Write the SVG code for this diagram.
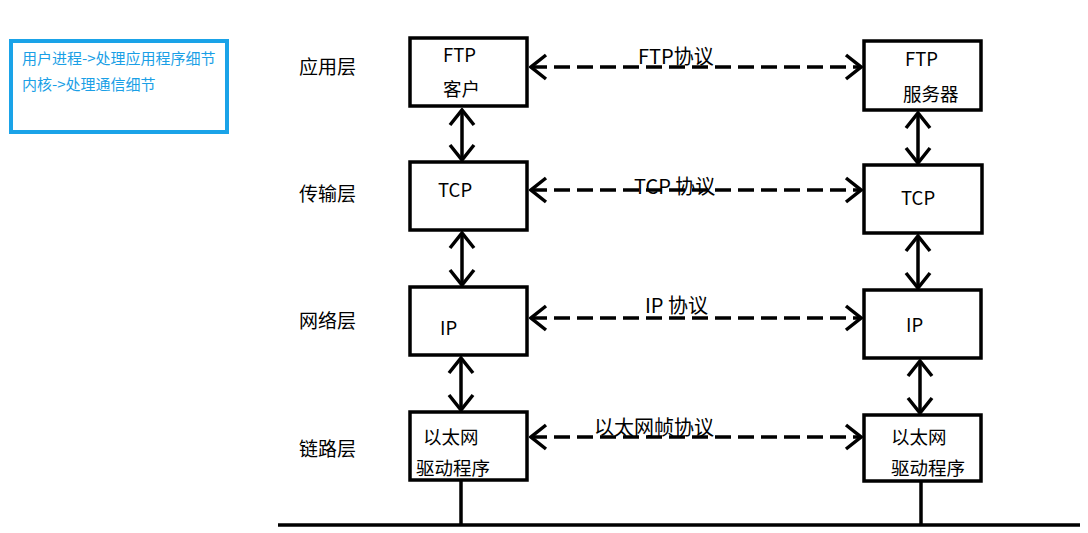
<svg xmlns="http://www.w3.org/2000/svg" width="1088" height="533" viewBox="0 0 1088 533">
<style>
text{font-family:"Noto Sans CJK SC","Noto Sans",sans-serif;fill:#000}
.box{fill:#fff;stroke:#000;stroke-width:3.5}
.lbl{font-size:19px}
.bt{font-size:18.5px}
.pl{font-size:20px}
.v{stroke:#000;stroke-width:3.5;fill:none}
.d{stroke:#000;stroke-width:3.5;fill:none;stroke-dasharray:16 7}
.note{font-size:15px;fill:#1a9fe6}
</style>
<defs>
<marker id="a" viewBox="-17 -14 19 28" refX="0" refY="0" markerWidth="19" markerHeight="28" markerUnits="userSpaceOnUse" orient="auto-start-reverse">
<path d="M-15,-12 L0,0 L-15,12" fill="none" stroke="#000" stroke-width="3.5" stroke-dasharray="none"/>
</marker>
</defs>
<g id="note">
<rect x="11" y="41" width="216" height="91" fill="#fff" stroke="#1aa3e8" stroke-width="4"/>
<text class="note" x="22" y="64">用户进程-&gt;处理应用程序细节</text>
<text class="note" x="22" y="90">内核-&gt;处理通信细节</text>
</g>
<g id="layers">
<text class="lbl" x="299" y="74">应用层</text>
<text class="lbl" x="299" y="201">传输层</text>
<text class="lbl" x="299" y="328">网络层</text>
<text class="lbl" x="299" y="456">链路层</text>
</g>
<g id="connectors">
<line class="v" x1="278" y1="525" x2="1080" y2="525"/>
<line class="v" x1="461" y1="480" x2="461" y2="525"/>
<line class="v" x1="921" y1="481" x2="921" y2="525"/>
<line class="v" x1="462" y1="110" x2="462" y2="160" marker-start="url(#a)" marker-end="url(#a)"/>
<line class="v" x1="462" y1="233" x2="462" y2="285" marker-start="url(#a)" marker-end="url(#a)"/>
<line class="v" x1="461" y1="358" x2="461" y2="410" marker-start="url(#a)" marker-end="url(#a)"/>
<line class="v" x1="918" y1="113" x2="918" y2="163" marker-start="url(#a)" marker-end="url(#a)"/>
<line class="v" x1="918" y1="236" x2="918" y2="288" marker-start="url(#a)" marker-end="url(#a)"/>
<line class="v" x1="920" y1="361" x2="920" y2="413" marker-start="url(#a)" marker-end="url(#a)"/>
<line class="d" x1="531" y1="67" x2="861" y2="67" marker-start="url(#a)" marker-end="url(#a)"/>
<line class="d" x1="531" y1="190" x2="861" y2="190" marker-start="url(#a)" marker-end="url(#a)"/>
<line class="d" x1="531" y1="318" x2="861" y2="318" marker-start="url(#a)" marker-end="url(#a)"/>
<line class="d" x1="531" y1="437" x2="861" y2="437" marker-start="url(#a)" marker-end="url(#a)"/>
<text class="pl" x="638" y="64">FTP协议</text>
<text class="pl" x="634" y="194">TCP 协议</text>
<text class="pl" x="645" y="313">IP 协议</text>
<text class="pl" x="594" y="435">以太网帧协议</text>
</g>
<g id="ftp-client">
<rect class="box" x="410" y="38" width="117" height="68"/>
<text class="bt" x="443" y="62">FTP</text>
<text class="bt" x="443" y="96">客户</text>
</g>
<g id="tcp-left">
<rect class="box" x="410" y="162" width="117" height="68"/>
<text class="bt" x="438" y="197">TCP</text>
</g>
<g id="ip-left">
<rect class="box" x="410" y="287" width="117" height="68"/>
<text class="bt" x="440" y="335">IP</text>
</g>
<g id="eth-left">
<rect class="box" x="410" y="412" width="117" height="68"/>
<text class="bt" x="423" y="444">以太网</text>
<text class="bt" x="416" y="475">驱动程序</text>
</g>
<g id="ftp-server">
<rect class="box" x="864" y="41" width="117" height="69"/>
<text class="bt" x="905" y="66">FTP</text>
<text class="bt" x="903" y="101">服务器</text>
</g>
<g id="tcp-right">
<rect class="box" x="864" y="165" width="118" height="68"/>
<text class="bt" x="901" y="205">TCP</text>
</g>
<g id="ip-right">
<rect class="box" x="864" y="290" width="117" height="68"/>
<text class="bt" x="906" y="332">IP</text>
</g>
<g id="eth-right">
<rect class="box" x="864" y="415" width="117" height="66"/>
<text class="bt" x="891" y="444">以太网</text>
<text class="bt" x="891" y="475">驱动程序</text>
</g>
</svg>
